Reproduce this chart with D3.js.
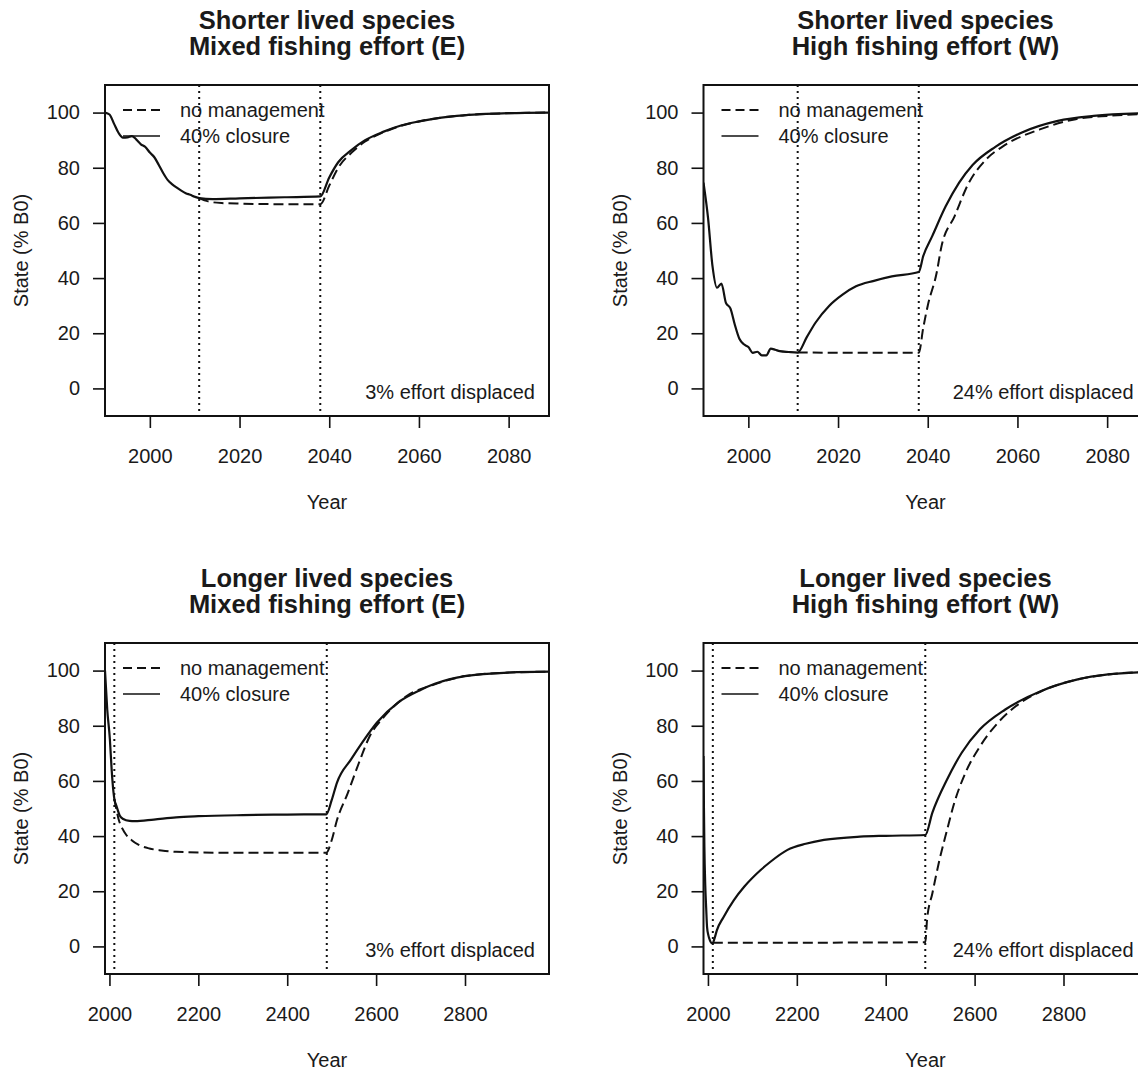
<!DOCTYPE html>
<html>
<head>
<meta charset="utf-8">
<script src="https://cdn.jsdelivr.net/npm/d3@7"></script>
<style>
  body { margin: 0; background: #fff; }
  text { font-family: "Liberation Sans", Arial, sans-serif; fill: #1a1a1a; }
</style>
</head>
<body>
<script>
// values (State as % of B0)

const yTicks = [0, 20, 40, 60, 80, 100]
const shortTicks = [2000, 2020, 2040, 2060, 2080]
const longTicks = [2000, 2200, 2400, 2600, 2800]

// shorter lived, mixed effort (E)
const shortE_closureYears = [1990, 1991, 1992, 1993, 1994, 1995, 1996, 1997, 1998, 1999, 2000, 2001, 2002, 2003, 2004, 2005, 2006, 2007, 2008, 2009, 2010, 2011, 2014, 2020, 2030, 2038, 2040, 2042, 2045, 2048, 2052, 2056, 2060, 2065, 2070, 2075, 2080, 2089]
const shortE_closure = [100, 99.3, 96, 92.7, 90.9, 91, 91.5, 90.2, 88.5, 87.5, 85.5, 83.8, 81, 78, 75.5, 74, 72.8, 71.7, 70.8, 70.2, 69.5, 69, 68.6, 68.9, 69.3, 69.6, 76.5, 82, 86.5, 90, 93, 95.3, 96.8, 98.2, 99, 99.5, 99.8, 100]
const shortE_noMgmtYears = [2011, 2013, 2016, 2020, 2030, 2038, 2040, 2042, 2045, 2048, 2052, 2056, 2060, 2065, 2070, 2075, 2080, 2089]
const shortE_noMgmt = [69, 67.8, 67.2, 67, 66.8, 66.8, 73.5, 80, 85.5, 89.5, 92.8, 95.2, 96.8, 98.2, 99, 99.5, 99.8, 100]

// shorter lived, high effort (W)
const shortW_closureYears = [1990, 1991, 1992, 1993, 1994, 1995, 1996, 1997, 1998, 1999, 2000, 2001, 2002, 2003, 2004, 2005, 2006, 2007, 2009, 2011, 2013, 2015, 2018, 2021, 2024, 2028, 2032, 2038, 2039, 2041, 2044, 2047, 2050, 2055, 2061, 2069, 2077, 2089]
const shortW_closure = [74.6, 62, 44.4, 36.5, 38, 31, 29, 23, 18, 16, 15, 12.9, 13.3, 12, 12, 14.4, 14, 13.5, 13.2, 13, 18.5, 23.9, 29.9, 34, 37, 39, 40.6, 42.2, 48, 55.2, 66, 74.6, 81, 87.5, 92.8, 97, 98.8, 99.8]
const shortW_noMgmtYears = [2011, 2038, 2039, 2040, 2042, 2043, 2046, 2049, 2053, 2057, 2065, 2073, 2080, 2089]
const shortW_noMgmt = [13, 12.9, 22, 30, 42, 51, 62.5, 74, 83, 88, 93.9, 97.6, 98.8, 99.5]

// longer lived, mixed effort (E)
const longE_closureYears = [1990, 1995, 2001, 2005, 2009, 2011, 2016, 2023, 2031, 2045, 2057, 2100, 2150, 2200, 2300, 2400, 2488, 2500, 2512, 2544, 2569, 2602, 2650, 2700, 2732, 2800, 2900, 2989]
const longE_closure = [100, 86, 75, 64, 56, 53.5, 50.8, 47.5, 46.2, 45.5, 45.4, 46, 46.8, 47.2, 47.6, 47.8, 47.9, 53, 59.4, 67.9, 74, 81.2, 88.5, 93, 95.2, 98, 99.3, 99.6]
const longE_noMgmtYears = [2011, 2020, 2035, 2050, 2065, 2090, 2117, 2150, 2237, 2488, 2500, 2512, 2536, 2561, 2585, 2618, 2667, 2732, 2800, 2900, 2989]
const longE_noMgmt = [53.5, 46.5, 41.1, 38.5, 36.9, 35.5, 34.8, 34.3, 34, 34, 38.5, 45.8, 55.5, 66.4, 76, 83.3, 90.6, 95, 98, 99.3, 99.6]

// longer lived, high effort (W)
const longW_closureYears = [1990, 1991, 1992, 1994, 1996, 1998, 2001, 2004, 2009, 2011, 2015, 2020, 2035, 2058, 2082, 2118, 2140, 2179, 2220, 2261, 2342, 2400, 2489, 2505, 2538, 2571, 2612, 2669, 2750, 2832, 2900, 2989]
const longW_closure = [69, 50, 36, 22, 14, 7, 4, 2.4, 1.2, 1.3, 3, 5.8, 10.6, 16.7, 21.7, 27.6, 30.6, 35, 37.2, 38.6, 39.8, 40.1, 40.4, 48.5, 60.5, 70.2, 78.7, 85.9, 92.6, 96.8, 98.6, 99.5]
const longW_noMgmtYears = [2011, 2489, 2493, 2505, 2521, 2538, 2554, 2579, 2612, 2652, 2702, 2750, 2832, 2900, 2989]
const longW_noMgmt = [1.3, 1.5, 9.7, 19.3, 31.4, 42.2, 51.9, 62.8, 72.5, 81, 88.2, 92.5, 96.8, 98.6, 99.5]

const W = 444, H = 331

const svg = d3.select('body').append('svg')
    .attr('width', 1138).attr('height', 1072)
svg.append('rect').attr('width', 1138).attr('height', 1072).attr('fill', '#fff')

const zip = (xs, ys) => xs.map((d, i) => [d, ys[i]])

const panels = [
    {left: 105, top: 85, title: ['Shorter lived species', 'Mixed fishing effort (E)'], xDomain: [1990, 2089], ticks: shortTicks, vlines: [2011, 2038],
     closure: zip(shortE_closureYears, shortE_closure), noMgmt: zip(shortE_noMgmtYears, shortE_noMgmt), note: '3% effort displaced'},
    {left: 703.5, top: 85, title: ['Shorter lived species', 'High fishing effort (W)'], xDomain: [1990, 2089], ticks: shortTicks, vlines: [2011, 2038],
     closure: zip(shortW_closureYears, shortW_closure), noMgmt: zip(shortW_noMgmtYears, shortW_noMgmt), note: '24% effort displaced'},
    {left: 105, top: 643, title: ['Longer lived species', 'Mixed fishing effort (E)'], xDomain: [1990, 2989], ticks: longTicks, vlines: [2011, 2489],
     closure: zip(longE_closureYears, longE_closure), noMgmt: zip(longE_noMgmtYears, longE_noMgmt), note: '3% effort displaced'},
    {left: 703.5, top: 643, title: ['Longer lived species', 'High fishing effort (W)'], xDomain: [1990, 2989], ticks: longTicks, vlines: [2011, 2489],
     closure: zip(longW_closureYears, longW_closure), noMgmt: zip(longW_noMgmtYears, longW_noMgmt), note: '24% effort displaced'}
]

panels.forEach((p, i) => {
    const g = svg.append('g').attr('transform', `translate(${p.left},${p.top})`)
    const x = d3.scaleLinear().domain(p.xDomain).range([0, W])
    const y = d3.scaleLinear().domain([-10, 110]).range([H, 0])

    g.append('clipPath').attr('id', 'clip' + i)
        .append('rect').attr('width', W).attr('height', H)

    // titles
    g.append('text').attr('x', W / 2).attr('y', -56).attr('text-anchor', 'middle')
        .style('font-size', '25.5px').style('font-weight', 'bold').text(p.title[0])
    g.append('text').attr('x', W / 2).attr('y', -30).attr('text-anchor', 'middle')
        .style('font-size', '25.5px').style('font-weight', 'bold').text(p.title[1])

    // axes
    const xa = g.append('g').attr('transform', `translate(0,${H})`)
        .call(d3.axisBottom(x).tickValues(p.ticks).tickFormat(d3.format('d')).tickSize(12).tickPadding(21))
    const ya = g.append('g')
        .call(d3.axisLeft(y).tickValues(yTicks).tickSize(12).tickPadding(13))
    ;[xa, ya].forEach(a => {
        a.select('.domain').remove()
        a.selectAll('line').attr('stroke', '#111').attr('stroke-width', 1.6)
        a.selectAll('text').style('font-size', '20px').style('font-family', '"Liberation Sans", Arial, sans-serif').attr('fill', '#1a1a1a')
    })

    g.append('text').attr('x', W / 2).attr('y', 424).attr('text-anchor', 'middle')
        .style('font-size', '20px').text('Year')
    g.append('text').attr('transform', `translate(-77,${H / 2}) rotate(-90)`).attr('text-anchor', 'middle')
        .style('font-size', '20px').text('State (% B0)')

    const plot = g.append('g').attr('clip-path', `url(#clip${i})`)

    // closure period markers
    p.vlines.forEach(v => {
        plot.append('line').attr('x1', x(v)).attr('x2', x(v)).attr('y1', 0).attr('y2', H)
            .attr('stroke', '#111').attr('stroke-width', 2).attr('stroke-dasharray', '2,4')
    })

    const line = d3.line().x(d => x(d[0])).y(d => y(d[1])).curve(d3.curveMonotoneX)

    plot.append('path').attr('d', line(p.noMgmt)).attr('fill', 'none')
        .attr('stroke', '#111').attr('stroke-width', 2).attr('stroke-dasharray', '10,5')
    plot.append('path').attr('d', line(p.closure)).attr('fill', 'none')
        .attr('stroke', '#111').attr('stroke-width', 2.2)

    // legend
    g.append('line').attr('x1', 18).attr('x2', 55).attr('y1', 25).attr('y2', 25)
        .attr('stroke', '#111').attr('stroke-width', 1.8).attr('stroke-dasharray', '9,5')
    g.append('line').attr('x1', 18).attr('x2', 55).attr('y1', 51).attr('y2', 51)
        .attr('stroke', '#111').attr('stroke-width', 1.5)
    g.append('text').attr('x', 75).attr('y', 32).style('font-size', '20px').text('no management')
    g.append('text').attr('x', 75).attr('y', 58).style('font-size', '20px').text('40% closure')

    g.append('text').attr('x', W - 14).attr('y', 314).attr('text-anchor', 'end')
        .style('font-size', '20px').text(p.note)

    g.append('rect').attr('width', W).attr('height', H).attr('fill', 'none')
        .attr('stroke', '#111').attr('stroke-width', 2)
})
</script>
</body>
</html>
